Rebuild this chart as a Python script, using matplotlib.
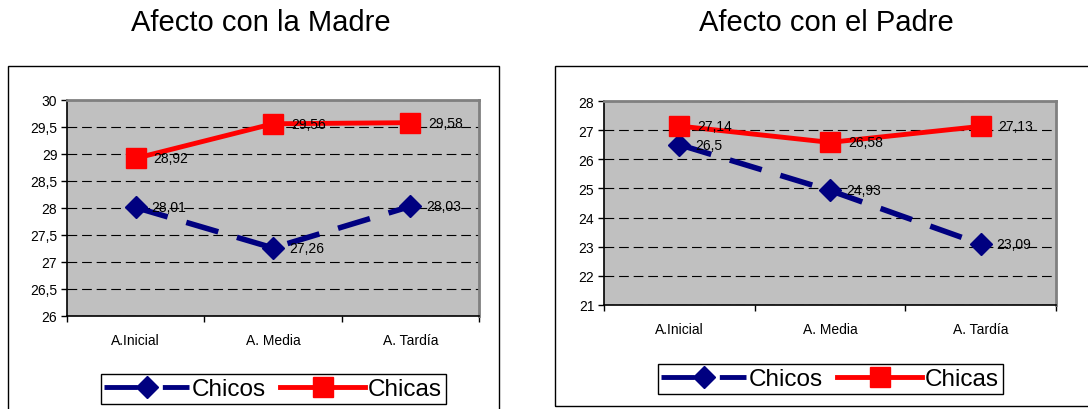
import matplotlib
matplotlib.use('Agg')
import matplotlib.pyplot as plt
from matplotlib.lines import Line2D
from matplotlib.patches import Rectangle
from matplotlib.ticker import FuncFormatter, FixedLocator

plt.rcParams['font.family'] = ['Liberation Sans', 'DejaVu Sans']
plt.rcParams['lines.scale_dashes'] = False

# Datos
etapas = ['A.Inicial', 'A. Media', 'A. Tardía']
madre_chicos = [28.01, 27.26, 28.03]
madre_chicas = [28.92, 29.56, 29.58]
padre_chicos = [26.5, 24.93, 23.09]
padre_chicas = [27.14, 26.58, 27.13]

AZUL = '#000080'
ROJO = '#FF0000'
FONDO = '#C0C0C0'

W, H = 1088, 410
fig = plt.figure(figsize=(W / 100, H / 100), dpi=100)


def px(x0, y0, x1, y1):
    return [x0 / W, 1 - y1 / H, (x1 - x0) / W, (y1 - y0) / H]


def coma(v, pos=None):
    return ('%g' % v).replace('.', ',')


def panel(rect, titulo, tx, chicos, chicas, ylim, ystep, caja, leg_center):
    # marco exterior del gráfico
    fig.patches.append(Rectangle((caja[0] / W, 1 - caja[3] / H),
                                 (caja[2] - caja[0]) / W, (caja[3] - caja[1]) / H,
                                 transform=fig.transFigure, fill=False,
                                 edgecolor='black', linewidth=1.0, clip_on=False))
    fig.text(tx / W, 1 - 23 / H, titulo, ha='center', va='center', fontsize=21)

    ax = fig.add_axes(px(*rect))
    ax.set_facecolor(FONDO)
    x = list(range(len(etapas)))
    ax.plot(x, chicos, color=AZUL, linewidth=4, dashes=(24, 14),
            marker='D', markersize=11, zorder=3)
    ax.plot(x, chicas, color=ROJO, linewidth=3.5, marker='s',
            markersize=15, zorder=4)
    for xi, v in zip(x, chicos):
        ax.annotate(coma(v), (xi, v), xytext=(11.5, 0),
                    textcoords='offset points', va='center', ha='left',
                    fontsize=10, zorder=5)
    for xi, v in zip(x, chicas):
        ax.annotate(coma(v), (xi, v), xytext=(13, 0),
                    textcoords='offset points', va='center', ha='left',
                    fontsize=10, zorder=5)

    ax.set_xlim(-0.5, len(etapas) - 0.5)
    ax.set_ylim(*ylim)
    yt = []
    v = ylim[0]
    while v <= ylim[1] + 1e-9:
        yt.append(round(v, 2))
        v += ystep
    ax.set_yticks(yt)
    ax.yaxis.set_major_formatter(FuncFormatter(coma))
    ax.set_xticks(x)
    ax.set_xticklabels(etapas)
    ax.xaxis.set_minor_locator(FixedLocator([-0.5, 0.5, 1.5, 2.5]))
    ax.tick_params(axis='x', which='major', length=0, pad=12, labelsize=10)
    ax.tick_params(axis='x', which='minor', length=4, width=1, direction='out')
    ax.tick_params(axis='y', length=4, width=1, direction='out', labelsize=10, pad=3)
    ax.yaxis.grid(True, color='black', linestyle=(0, (7, 3.5)), linewidth=0.8)
    ax.set_axisbelow(True)
    for s in ('left', 'bottom'):
        ax.spines[s].set_color('black')
        ax.spines[s].set_linewidth(1.2)
    for s in ('top', 'right'):
        ax.spines[s].set_color('#808080')
        ax.spines[s].set_linewidth(2)

    h1 = Line2D([], [], color=AZUL, linewidth=3.5, dashes=(24, 18),
                marker='D', markersize=11)
    h2 = Line2D([], [], color=ROJO, linewidth=3.5, marker='s', markersize=14)
    fig.legend([h1, h2], ['Chicos', 'Chicas'], loc='center',
               bbox_to_anchor=(leg_center[0] / W, 1 - leg_center[1] / H),
               ncol=2, fontsize=17.5, frameon=True, fancybox=False,
               edgecolor='black', framealpha=1, handlelength=3.5,
               handletextpad=0.1, columnspacing=0.6, borderpad=0.15,
               borderaxespad=0)
    return ax


panel((67, 101, 479, 317), 'Afecto con la Madre', 261,
      madre_chicos, madre_chicas, (26, 30), 0.5,
      (8, 67, 499, 440), (273, 390))
panel((604, 102, 1056, 306), 'Afecto con el Padre', 826,
      padre_chicos, padre_chicas, (21, 28), 1,
      (555, 67, 1100, 407), (830, 380))

fig.savefig('out.png', dpi=100)
